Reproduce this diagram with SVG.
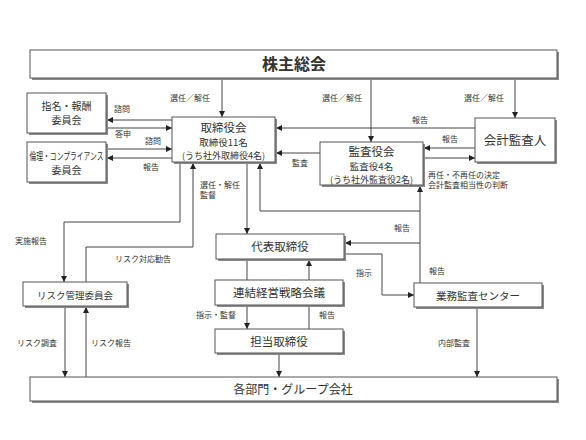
<svg xmlns="http://www.w3.org/2000/svg" width="586" height="440" viewBox="0 0 586 440">
<defs>
<marker id="ah" viewBox="0 0 6 6" refX="6" refY="3" markerWidth="6" markerHeight="6" orient="auto" markerUnits="userSpaceOnUse">
<path d="M0,0 L6,3 L0,6 Z" fill="#222"/>
</marker>
</defs>
<style>
.box{fill:#fff;stroke:#555;stroke-width:1}
.sh{fill:#8a8a8a}
.t{font-family:"Noto Sans CJK JP","Noto Sans",sans-serif;fill:#333;text-anchor:middle}
.lb{font-family:"Noto Sans CJK JP","Noto Sans",sans-serif;fill:#333;font-size:8px}
.c{fill:none;stroke:#444;stroke-width:1}
.a{marker-end:url(#ah)}
</style>
<rect width="586" height="440" fill="#fff"/>

<g id="connectors">
<path class="c a" d="M222,78 V117"/>
<path class="c a" d="M371,78 V142"/>
<path class="c a" d="M515,78 V118"/>
<path class="c a" d="M172,120 H107"/>
<path class="c a" d="M107,128 H172"/>
<path class="c a" d="M107,149 H172"/>
<path class="c a" d="M172,158 H107"/>
<path class="c a" d="M475,128 H276"/>
<path class="c a" d="M320,153 H276"/>
<path class="c a" d="M475,148 H424"/>
<path class="c a" d="M424,158 H475"/>
<path class="c a" d="M180,162 V222 H64 V282"/>
<path class="c a" d="M86,282 V247 H193 V163"/>
<path class="c a" d="M247,162 V234"/>
<path class="c a" d="M420,283 V186"/>
<path class="c a" d="M420,211 H260 V163"/>
<path class="c a" d="M420,243 H345"/>
<path class="c a" d="M344,254 H382 V295 H414"/>
<path class="c" d="M247,259 V280"/>
<path class="c a" d="M309,280 V260"/>
<path class="c a" d="M247,305 V329"/>
<path class="c" d="M309,329 V305"/>
<path class="c a" d="M279,353 V377"/>
<path class="c a" d="M477,307 V377"/>
<path class="c a" d="M65,306 V377"/>
<path class="c a" d="M86,377 V307"/>
</g>

<g id="labels">
<text class="lb" x="190" y="101" text-anchor="middle">選任／解任</text>
<text class="lb" x="342" y="101" text-anchor="middle">選任／解任</text>
<text class="lb" x="484" y="101" text-anchor="middle">選任／解任</text>
<text class="lb" x="122" y="112" text-anchor="middle">諮問</text>
<text class="lb" x="123" y="137" text-anchor="middle">答申</text>
<text class="lb" x="153" y="144" text-anchor="middle">諮問</text>
<text class="lb" x="151" y="170" text-anchor="middle">報告</text>
<text class="lb" x="420" y="123" text-anchor="middle">報告</text>
<text class="lb" x="450" y="142" text-anchor="middle">報告</text>
<text class="lb" x="300" y="166" text-anchor="middle">監査</text>
<text class="lb" x="428" y="178">再任・不再任の決定</text>
<text class="lb" x="428" y="188">会計監査相当性の判断</text>
<text class="lb" x="200" y="188">選任・解任</text>
<text class="lb" x="200" y="198">監督</text>
<text class="lb" x="15" y="244">実施報告</text>
<text class="lb" x="115" y="262">リスク対応勧告</text>
<text class="lb" x="402" y="231" text-anchor="middle">報告</text>
<text class="lb" x="364" y="276" text-anchor="middle">指示</text>
<text class="lb" x="437" y="274" text-anchor="middle">報告</text>
<text class="lb" x="196" y="318">指示・監督</text>
<text class="lb" x="327" y="318" text-anchor="middle">報告</text>
<text class="lb" x="17" y="346">リスク調査</text>
<text class="lb" x="91" y="346">リスク報告</text>
<text class="lb" x="438" y="346">内部監査</text>
</g>

<g id="shareholders">
<rect class="sh" x="32" y="52" width="527" height="28"/>
<rect class="box" x="30" y="50" width="527" height="28"/>
<text class="t" x="294" y="70" font-size="16" font-weight="bold">株主総会</text>
</g>

<g id="nomination">
<rect class="sh" x="29" y="95" width="79" height="40"/>
<rect class="box" x="27" y="93" width="79" height="40"/>
<text class="t" x="66.5" y="110" font-size="10">指名・報酬</text>
<text class="t" x="66.5" y="124" font-size="10">委員会</text>
</g>

<g id="compliance">
<rect class="sh" x="29" y="144" width="79" height="40"/>
<rect class="box" x="27" y="142" width="79" height="40"/>
<text class="t" x="66.5" y="160" font-size="10" textLength="74" lengthAdjust="spacingAndGlyphs">倫理・コンプライアンス</text>
<text class="t" x="66.5" y="174" font-size="10">委員会</text>
</g>

<g id="board">
<rect class="sh" x="174" y="119" width="103" height="45"/>
<rect class="box" x="172" y="117" width="103" height="45"/>
<text class="t" x="223.5" y="132" font-size="11.5">取締役会</text>
<text class="t" x="223.5" y="146" font-size="9.5">取締役11名</text>
<text class="t" x="223.5" y="158.5" font-size="9">(うち社外取締役4名)</text>
</g>

<g id="auditboard">
<rect class="sh" x="322" y="144" width="103" height="43"/>
<rect class="box" x="320" y="142" width="103" height="43"/>
<text class="t" x="371.5" y="156" font-size="11.5">監査役会</text>
<text class="t" x="371.5" y="170" font-size="9.5">監査役4名</text>
<text class="t" x="371.5" y="182.5" font-size="9">(うち社外監査役2名)</text>
</g>

<g id="accountingauditor">
<rect class="sh" x="477" y="120" width="80" height="44"/>
<rect class="box" x="475" y="118" width="80" height="44"/>
<text class="t" x="515" y="145" font-size="12.5">会計監査人</text>
</g>

<g id="ceo">
<rect class="sh" x="218" y="236" width="128" height="25"/>
<rect class="box" x="216" y="234" width="128" height="25"/>
<text class="t" x="280" y="251" font-size="11.5">代表取締役</text>
</g>

<g id="strategy">
<rect class="sh" x="217" y="282" width="128" height="25"/>
<rect class="box" x="215" y="280" width="128" height="25"/>
<text class="t" x="279" y="297" font-size="11.5">連結経営戦略会議</text>
</g>

<g id="director">
<rect class="sh" x="217" y="331" width="128" height="24"/>
<rect class="box" x="215" y="329" width="128" height="24"/>
<text class="t" x="279" y="345.5" font-size="11.5">担当取締役</text>
</g>

<g id="riskcommittee">
<rect class="sh" x="25" y="284" width="104" height="24"/>
<rect class="box" x="23" y="282" width="104" height="24"/>
<text class="t" x="75" y="298.5" font-size="9.5">リスク管理委員会</text>
</g>

<g id="auditcenter">
<rect class="sh" x="416" y="285" width="128" height="24"/>
<rect class="box" x="414" y="283" width="128" height="24"/>
<text class="t" x="478" y="299.5" font-size="10.5">業務監査センター</text>
</g>

<g id="departments">
<rect class="sh" x="32" y="379" width="527" height="24"/>
<rect class="box" x="30" y="377" width="527" height="24"/>
<text class="t" x="293" y="394" font-size="12">各部門・グループ会社</text>
</g>
</svg>
